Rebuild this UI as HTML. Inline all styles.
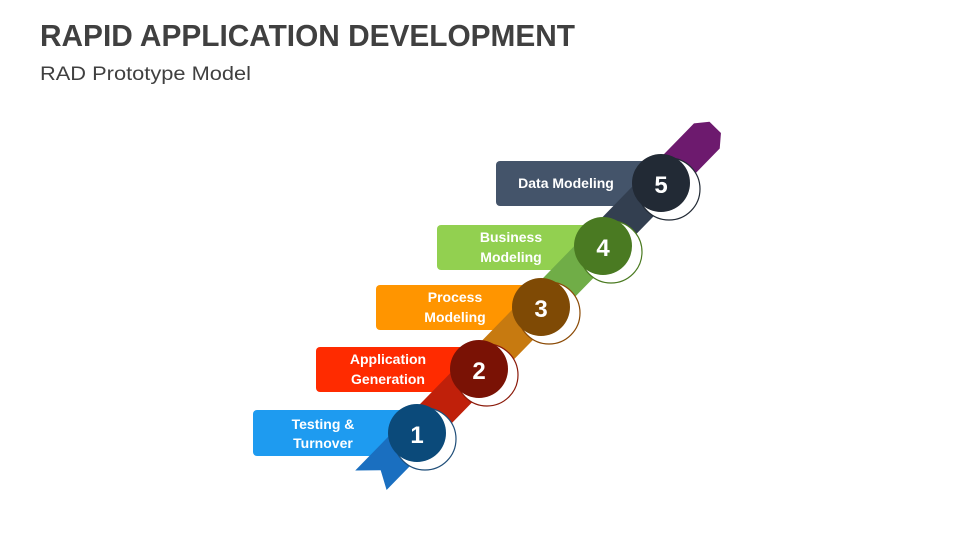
<!DOCTYPE html>
<html><head><meta charset="utf-8"><style>
html,body{margin:0;padding:0;background:#fff;}
svg{display:block;font-family:"Liberation Sans",sans-serif;}
</style></head><body>
<svg width="960" height="540" viewBox="0 0 960 540" xmlns="http://www.w3.org/2000/svg">
<text x="40" y="46" font-size="31" font-weight="bold" fill="#404040" textLength="535" lengthAdjust="spacingAndGlyphs">RAPID APPLICATION DEVELOPMENT</text>
<text x="40" y="80" font-size="19" fill="#404040" textLength="211" lengthAdjust="spacingAndGlyphs">RAD Prototype Model</text>

<!-- boxes -->
<rect x="253" y="410" width="160" height="46" rx="4" fill="#1e9bf0"/>
<text x="323" y="429" font-size="14" font-weight="bold" fill="#fff" text-anchor="middle">Testing &amp;</text>
<text x="323" y="448" font-size="14" font-weight="bold" fill="#fff" text-anchor="middle">Turnover</text>
<rect x="316" y="347" width="160" height="45" rx="4" fill="#ff2b00"/>
<text x="388" y="364" font-size="14" font-weight="bold" fill="#fff" text-anchor="middle">Application</text>
<text x="388" y="384" font-size="14" font-weight="bold" fill="#fff" text-anchor="middle">Generation</text>
<rect x="376" y="285" width="160" height="45" rx="4" fill="#ff9500"/>
<text x="455" y="302" font-size="14" font-weight="bold" fill="#fff" text-anchor="middle">Process</text>
<text x="455" y="322" font-size="14" font-weight="bold" fill="#fff" text-anchor="middle">Modeling</text>
<rect x="437" y="225" width="160" height="45" rx="4" fill="#92d050"/>
<text x="511" y="242" font-size="14" font-weight="bold" fill="#fff" text-anchor="middle">Business</text>
<text x="511" y="262" font-size="14" font-weight="bold" fill="#fff" text-anchor="middle">Modeling</text>
<rect x="496" y="161" width="170" height="45" rx="4" fill="#44546a"/>
<text x="566" y="188" font-size="14" font-weight="bold" fill="#fff" text-anchor="middle">Data Modeling</text>

<!-- ribbon -->
<g transform="translate(417,433) rotate(-45.7)">
  <polygon points="-70,-18 0,-18 0,18 -62,18 -52,0" fill="#1a6fc0" transform="translate(0,0)"/>
  <polygon points="-75,-18 -60,-18 -50,0 -60,18 -70,22" fill="#2a7fd0" opacity="0"/>
  <rect x="0" y="-18" width="89" height="36" fill="#c0200a"/>
  <rect x="89" y="-18" width="88" height="36" fill="#c77a10"/>
  <rect x="177" y="-18" width="87" height="36" fill="#70ad47"/>
  <rect x="264" y="-18" width="85" height="36" fill="#333f50"/>
  <polygon points="349,-18 415,-18 427,-8 427,8 415,18 349,18" fill="#6d1a6e"/>
</g>

<!-- circles -->
<g>
  <circle cx="425" cy="439" r="31" fill="#fff" stroke="#1f4e79" stroke-width="1.2"/>
  <circle cx="417" cy="433" r="29" fill="#0b4a7a"/>
  <text x="417" y="443" font-size="24" font-weight="bold" fill="#fff" text-anchor="middle">1</text>

  <circle cx="487" cy="375" r="31" fill="#fff" stroke="#8b1a0a" stroke-width="1.2"/>
  <circle cx="479" cy="369" r="29" fill="#7a1205"/>
  <text x="479" y="379" font-size="24" font-weight="bold" fill="#fff" text-anchor="middle">2</text>

  <circle cx="549" cy="313" r="31" fill="#fff" stroke="#8b4a05" stroke-width="1.2"/>
  <circle cx="541" cy="307" r="29" fill="#7f4a05"/>
  <text x="541" y="317" font-size="24" font-weight="bold" fill="#fff" text-anchor="middle">3</text>

  <circle cx="611" cy="252" r="31" fill="#fff" stroke="#4a7a20" stroke-width="1.2"/>
  <circle cx="603" cy="246" r="29" fill="#4a7a22"/>
  <text x="603" y="256" font-size="24" font-weight="bold" fill="#fff" text-anchor="middle">4</text>

  <circle cx="669" cy="189" r="31" fill="#fff" stroke="#222a35" stroke-width="1.2"/>
  <circle cx="661" cy="183" r="29" fill="#222a35"/>
  <text x="661" y="193" font-size="24" font-weight="bold" fill="#fff" text-anchor="middle">5</text>
</g>
</svg>
</body></html>
